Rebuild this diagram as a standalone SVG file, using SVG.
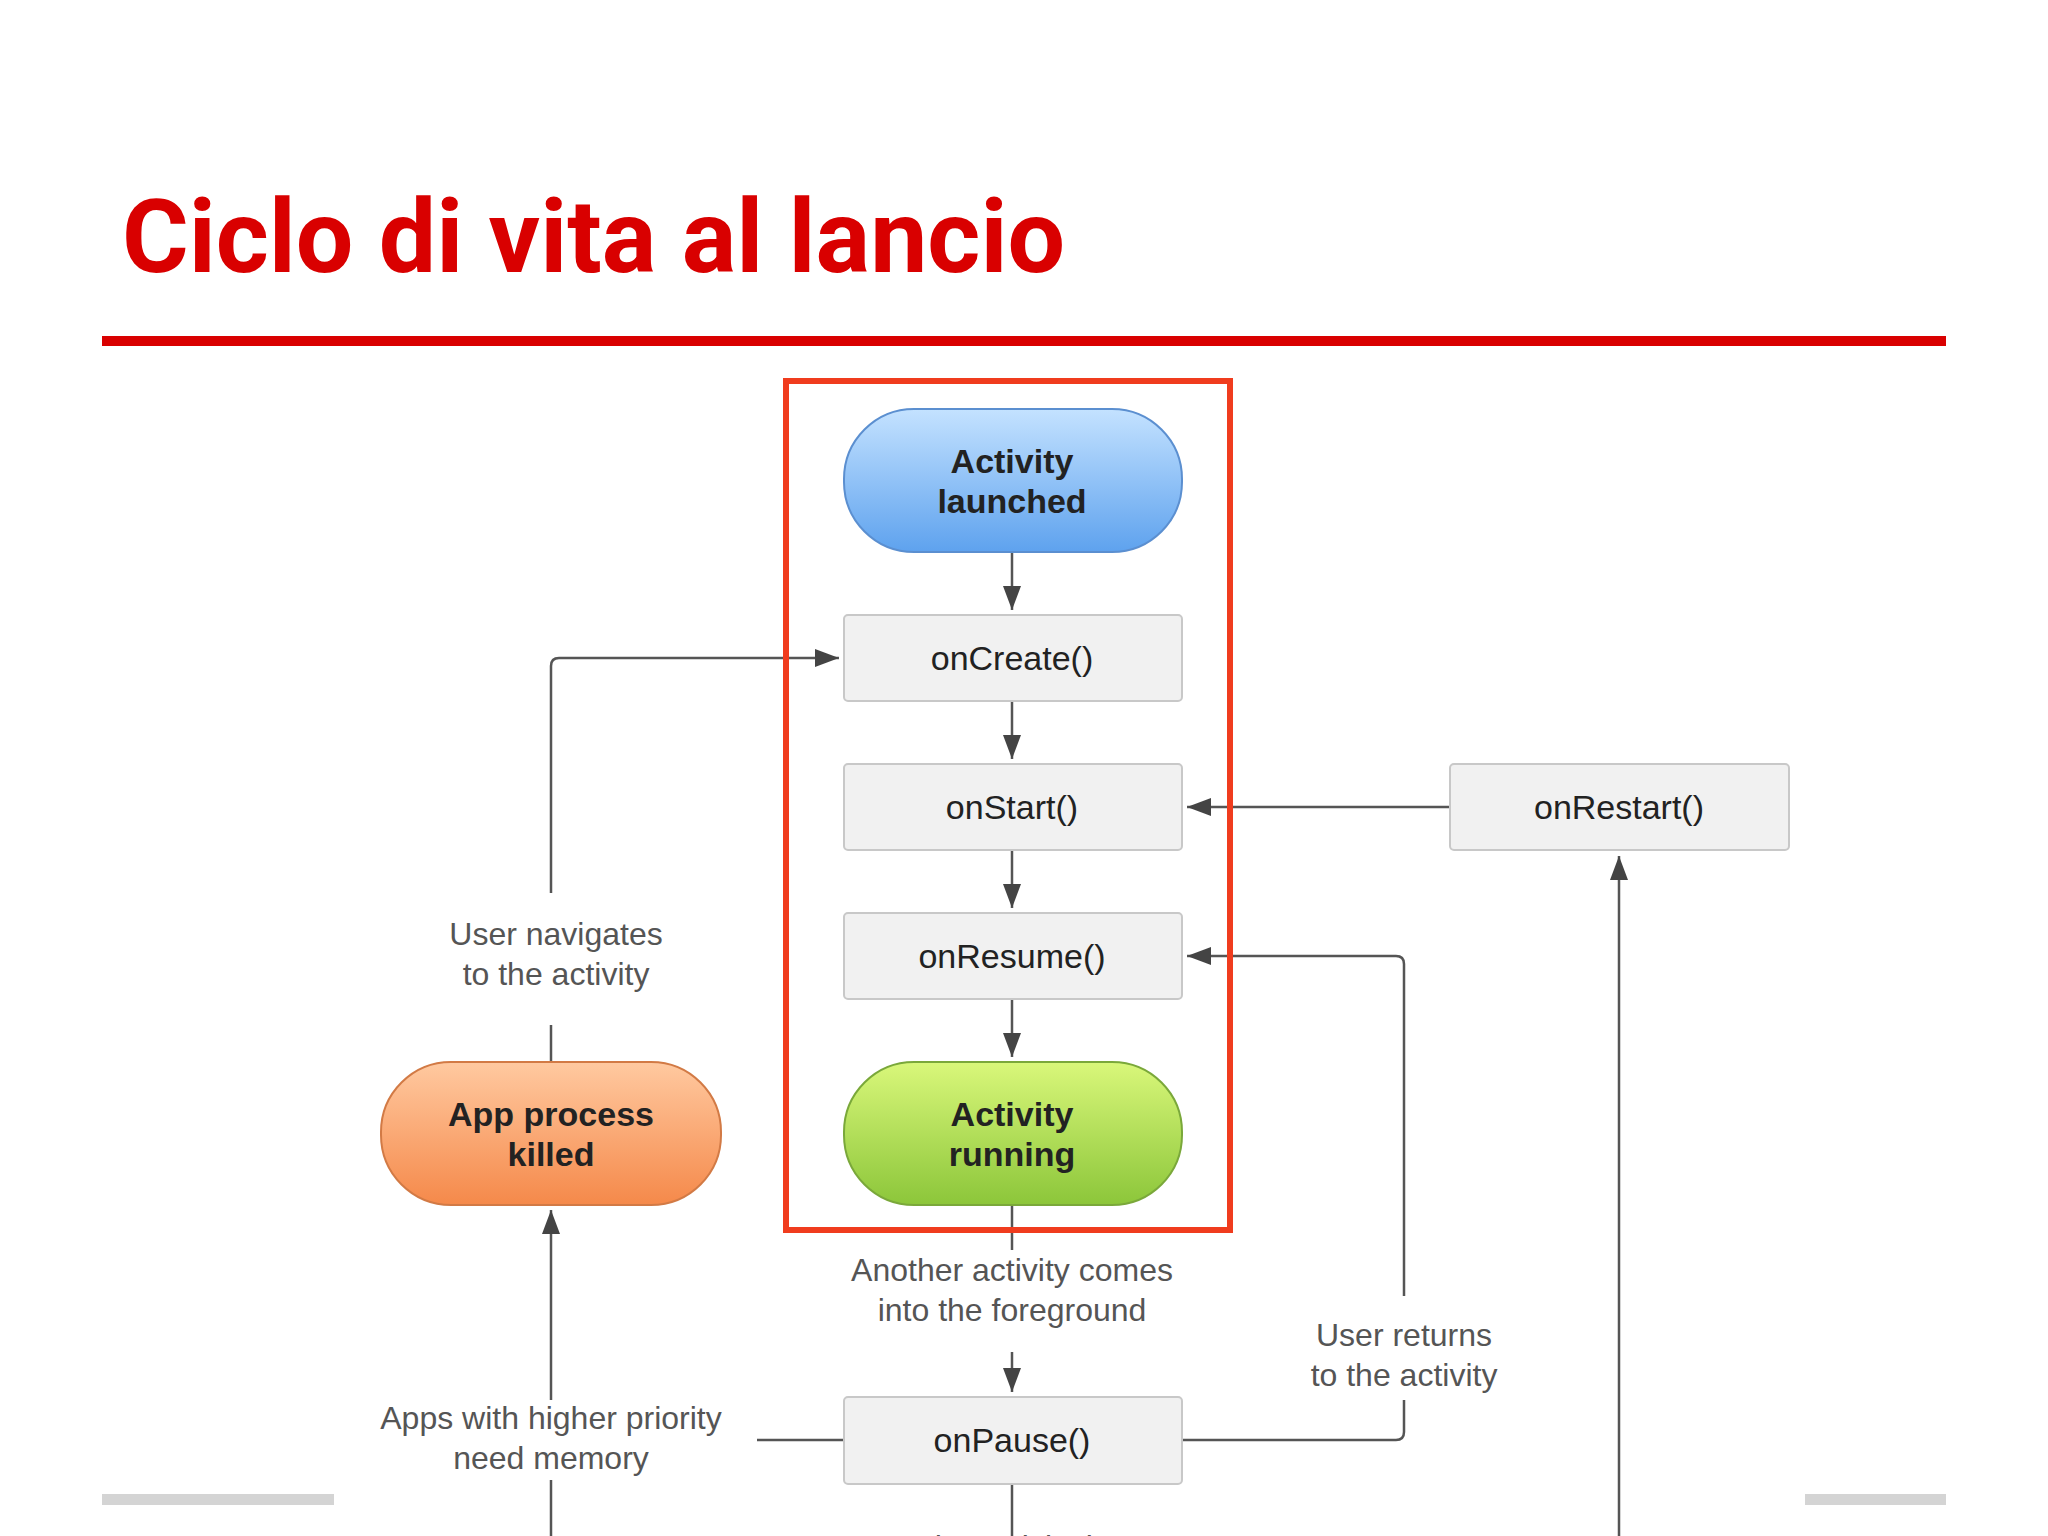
<svg xmlns="http://www.w3.org/2000/svg" width="2048" height="1536" viewBox="0 0 2048 1536">
<defs>
<linearGradient id="gb" x1="0" y1="0" x2="0" y2="1"><stop offset="0" stop-color="#c4e2ff"/><stop offset="1" stop-color="#5ea2ee"/></linearGradient>
<linearGradient id="gg" x1="0" y1="0" x2="0" y2="1"><stop offset="0" stop-color="#d9f77a"/><stop offset="1" stop-color="#8cc63a"/></linearGradient>
<linearGradient id="go" x1="0" y1="0" x2="0" y2="1"><stop offset="0" stop-color="#ffc9a0"/><stop offset="1" stop-color="#f5894a"/></linearGradient>
<marker id="ah" viewBox="0 0 10 10" refX="10" refY="5" markerWidth="24" markerHeight="18" markerUnits="userSpaceOnUse" orient="auto" preserveAspectRatio="none"><path d="M0,0 L10,5 L0,10 z" fill="#444"/></marker>
<style>
.box{fill:#f1f1f1;stroke:#c8c8c8;stroke-width:2}
.t{font-family:"Liberation Sans",Arial,sans-serif;font-size:34px;fill:#222;text-anchor:middle}
.b{font-weight:bold}
.l{font-family:"Liberation Sans",Arial,sans-serif;font-size:32px;fill:#555;text-anchor:middle}
.c{fill:none;stroke:#555;stroke-width:2.5}
.a{marker-end:url(#ah)}
</style>
</defs>
<rect width="2048" height="1536" fill="#fff"/>
<text x="122" y="272" font-family="Roboto,'Liberation Sans',sans-serif" font-weight="bold" font-size="102" fill="#d90000">Ciclo di vita al lancio</text>
<rect x="102" y="336" width="1844" height="10" fill="#d90000"/>
<rect x="102" y="1494" width="232" height="11" fill="#d4d4d4"/>
<rect x="1805" y="1494" width="141" height="11" fill="#d4d4d4"/>
<g id="connectors">
<path class="c a" d="M1012,552 V610"/>
<path class="c a" d="M1012,701 V759"/>
<path class="c a" d="M1012,850 V908"/>
<path class="c a" d="M1012,999 V1057"/>
<path class="c" d="M1012,1205 V1250"/>
<path class="c a" d="M1012,1352 V1392"/>
<path class="c" d="M1012,1484 V1536"/>
<path class="c a" d="M1450,807 H1187"/>
<path class="c a" d="M1619,1536 V856"/>
<path class="c" d="M551,1062 V1025"/>
<path class="c a" d="M551,893 V666 Q551,658 559,658 H839"/>
<path class="c a" d="M551,1400 V1210"/>
<path class="c" d="M551,1480 V1536"/>
<path class="c" d="M844,1440 H757"/>
<path class="c" d="M1182,1440 H1396 Q1404,1440 1404,1432 V1400"/>
<path class="c a" d="M1404,1296 V964 Q1404,956 1396,956 H1187"/>
</g>
<rect x="786" y="381" width="444" height="849" fill="none" stroke="#f03c1e" stroke-width="6"/>
<g id="launched"><rect x="844" y="409" width="338" height="143" rx="70" fill="url(#gb)" stroke="#5b8fd0" stroke-width="2"/><text class="t b" x="1012" y="473">Activity</text><text class="t b" x="1012" y="513">launched</text></g>
<g id="onCreate"><rect class="box" x="844" y="615" width="338" height="86" rx="4"/><text class="t" x="1012" y="670">onCreate()</text></g>
<g id="onStart"><rect class="box" x="844" y="764" width="338" height="86" rx="4"/><text class="t" x="1012" y="819">onStart()</text></g>
<g id="onResume"><rect class="box" x="844" y="913" width="338" height="86" rx="4"/><text class="t" x="1012" y="968">onResume()</text></g>
<g id="running"><rect x="844" y="1062" width="338" height="143" rx="70" fill="url(#gg)" stroke="#7aa83a" stroke-width="2"/><text class="t b" x="1012" y="1126">Activity</text><text class="t b" x="1012" y="1166">running</text></g>
<g id="onRestart"><rect class="box" x="1450" y="764" width="339" height="86" rx="4"/><text class="t" x="1619" y="819">onRestart()</text></g>
<g id="killed"><rect x="381" y="1062" width="340" height="143" rx="70" fill="url(#go)" stroke="#d27a45" stroke-width="2"/><text class="t b" x="551" y="1126">App process</text><text class="t b" x="551" y="1166">killed</text></g>
<g id="onPause"><rect class="box" x="844" y="1397" width="338" height="87" rx="4"/><text class="t" x="1012" y="1452">onPause()</text></g>
<g id="labels">
<text class="l" x="556" y="945">User navigates</text><text class="l" x="556" y="985">to the activity</text>
<text class="l" x="1012" y="1281">Another activity comes</text><text class="l" x="1012" y="1321">into the foreground</text>
<text class="l" x="1404" y="1346">User returns</text><text class="l" x="1404" y="1386">to the activity</text>
<text class="l" x="551" y="1429">Apps with higher priority</text><text class="l" x="551" y="1469">need memory</text>
<text class="l" x="1012" y="1558">The activity is</text>
</g>
</svg>
